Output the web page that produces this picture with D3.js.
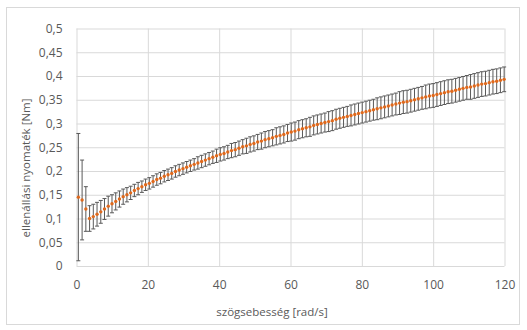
<!DOCTYPE html>
<html>
<head>
<meta charset="utf-8">
<script src="https://cdn.jsdelivr.net/npm/d3@7"></script>
<style>
  body { margin: 0; background: #fff; }
  svg { display: block; }
  text { font-family: "Open Sans", "Liberation Sans", sans-serif; fill: #595959; }
</style>
</head>
<body>
<svg id="chart" width="527" height="330"></svg>
<script>
// angular speed [rad/s]
const omega = [
  0.52, 1.57, 2.62, 3.67, 4.71, 5.76, 6.81, 7.85, 8.90, 9.95,
  11.00, 12.04, 13.09, 14.14, 15.18, 16.23, 17.28, 18.33, 19.37, 20.42,
  21.47, 22.51, 23.56, 24.61, 25.66, 26.70, 27.75, 28.80, 29.85, 30.89,
  31.94, 32.99, 34.03, 35.08, 36.13, 37.18, 38.22, 39.27, 40.32, 41.36,
  42.41, 43.46, 44.51, 45.55, 46.60, 47.65, 48.69, 49.74, 50.79, 51.84,
  52.88, 53.93, 54.98, 56.02, 57.07, 58.12, 59.17, 60.21, 61.26, 62.31,
  63.36, 64.40, 65.45, 66.50, 67.54, 68.59, 69.64, 70.69, 71.73, 72.78,
  73.83, 74.87, 75.92, 76.97, 78.02, 79.06, 80.11, 81.16, 82.21, 83.25,
  84.30, 85.35, 86.39, 87.44, 88.49, 89.54, 90.58, 91.63, 92.68, 93.72,
  94.77, 95.82, 96.87, 97.91, 98.96, 100.01, 101.05, 102.10, 103.15, 104.20,
  105.24, 106.29, 107.34, 108.38, 109.43, 110.48, 111.53, 112.57, 113.62, 114.67,
  115.72, 116.76, 117.81, 118.86, 119.90
]

// resisting torque [Nm]
const torque = [
  0.145, 0.139, 0.120, 0.100, 0.104, 0.109, 0.114, 0.120, 0.126, 0.131,
  0.136, 0.141, 0.146, 0.150, 0.154, 0.159, 0.163, 0.167, 0.171, 0.174,
  0.178, 0.182, 0.185, 0.189, 0.192, 0.195, 0.199, 0.202, 0.205, 0.208,
  0.211, 0.214, 0.217, 0.220, 0.223, 0.226, 0.229, 0.232, 0.235, 0.237,
  0.240, 0.243, 0.245, 0.248, 0.251, 0.253, 0.256, 0.258, 0.261, 0.263,
  0.266, 0.268, 0.270, 0.273, 0.275, 0.277, 0.280, 0.282, 0.284, 0.287,
  0.289, 0.291, 0.293, 0.296, 0.298, 0.300, 0.302, 0.304, 0.306, 0.309,
  0.311, 0.313, 0.315, 0.317, 0.319, 0.321, 0.323, 0.325, 0.327, 0.329,
  0.331, 0.333, 0.335, 0.337, 0.339, 0.341, 0.343, 0.345, 0.346, 0.348,
  0.350, 0.352, 0.354, 0.356, 0.358, 0.359, 0.361, 0.363, 0.365, 0.367,
  0.368, 0.370, 0.372, 0.374, 0.376, 0.377, 0.379, 0.381, 0.383, 0.384,
  0.386, 0.388, 0.389, 0.391, 0.393
]

// +/- error bar half length [Nm]
const torqueErr = [
  0.134, 0.084, 0.047, 0.027, 0.026, 0.025, 0.024, 0.022, 0.021, 0.019,
  0.018, 0.017, 0.016, 0.015, 0.014, 0.013, 0.013, 0.012, 0.012, 0.012,
  0.012, 0.012, 0.012, 0.012, 0.012, 0.012, 0.012, 0.012, 0.012, 0.012,
  0.012, 0.012, 0.013, 0.013, 0.013, 0.013, 0.013, 0.014, 0.014, 0.014,
  0.014, 0.015, 0.015, 0.015, 0.015, 0.016, 0.016, 0.016, 0.016, 0.017,
  0.017, 0.017, 0.017, 0.018, 0.018, 0.018, 0.018, 0.019, 0.019, 0.019,
  0.019, 0.019, 0.020, 0.020, 0.020, 0.020, 0.020, 0.021, 0.021, 0.021,
  0.021, 0.021, 0.021, 0.022, 0.022, 0.022, 0.022, 0.022, 0.022, 0.022,
  0.023, 0.023, 0.023, 0.023, 0.023, 0.023, 0.024, 0.024, 0.024, 0.024,
  0.024, 0.024, 0.024, 0.025, 0.025, 0.025, 0.025, 0.025, 0.025, 0.025,
  0.025, 0.025, 0.025, 0.025, 0.025, 0.026, 0.026, 0.026, 0.026, 0.026,
  0.026, 0.026, 0.026, 0.026, 0.026
]

const xTicks = [0, 20, 40, 60, 80, 100, 120]
const yTicks = [0, 0.05, 0.1, 0.15, 0.2, 0.25, 0.3, 0.35, 0.4, 0.45, 0.5]
const xTitle = 'szögsebesség [rad/s]'
const yTitle = 'ellenállási nyomaték [Nm]'

const points = omega.map((w, i) => ({ x: w, y: torque[i], e: torqueErr[i] }))

const svg = d3.select('#chart')
const plot = { left: 76.5, right: 504.5, top: 28.5, bottom: 266 }

const x = d3.scaleLinear().domain([0, 120]).range([plot.left, plot.right])
const y = d3.scaleLinear().domain([0, 0.5]).range([plot.bottom, plot.top])
const commaFmt = (v) => String(+v.toFixed(2)).replace('.', ',')

// chart frame
svg.append('rect')
  .attr('x', 6.5).attr('y', 7.5)
  .attr('width', 513).attr('height', 317)
  .attr('fill', '#fff')
  .attr('stroke', '#d9d9d9')

// y grid + labels
const yAxis = svg.append('g')
  .attr('transform', `translate(${plot.left},0)`)
  .call(d3.axisLeft(y).tickValues(yTicks).tickFormat(commaFmt)
    .tickSizeInner(-(plot.right - plot.left)).tickSizeOuter(0).tickPadding(14))
yAxis.select('.domain').remove()
yAxis.selectAll('line').attr('stroke', '#d9d9d9')
yAxis.selectAll('text').style('font-size', '12px').attr('fill', '#595959')

// x grid + labels
const xAxis = svg.append('g')
  .attr('transform', `translate(0,${plot.bottom})`)
  .call(d3.axisBottom(x).tickValues(xTicks).tickFormat(d3.format('d'))
    .tickSizeInner(-(plot.bottom - plot.top)).tickSizeOuter(0).tickPadding(14.5))
xAxis.select('.domain').remove()
xAxis.selectAll('line').attr('stroke', '#d9d9d9')
xAxis.selectAll('text').style('font-size', '12px').attr('fill', '#595959')

// error bars
const bars = svg.append('g')
  .attr('stroke', '#595959')
  .attr('stroke-width', 1)
  .selectAll('g.err')
  .data(points)
  .join('g')
  .attr('class', 'err')

bars.append('line')
  .attr('x1', (d) => x(d.x)).attr('x2', (d) => x(d.x))
  .attr('y1', (d) => y(d.y + d.e)).attr('y2', (d) => y(d.y - d.e))
bars.append('line')
  .attr('x1', (d) => x(d.x) - 2).attr('x2', (d) => x(d.x) + 2)
  .attr('y1', (d) => y(d.y + d.e)).attr('y2', (d) => y(d.y + d.e))
bars.append('line')
  .attr('x1', (d) => x(d.x) - 2).attr('x2', (d) => x(d.x) + 2)
  .attr('y1', (d) => y(d.y - d.e)).attr('y2', (d) => y(d.y - d.e))

// markers
svg.append('g')
  .selectAll('circle')
  .data(points)
  .join('circle')
  .attr('cx', (d) => x(d.x))
  .attr('cy', (d) => y(d.y))
  .attr('r', 1.7)
  .attr('fill', '#e0691c')

// axis titles
svg.append('text')
  .attr('x', 272).attr('y', 316)
  .attr('text-anchor', 'middle')
  .style('font-size', '11.5px')
  .text(xTitle)

svg.append('text')
  .attr('transform', 'translate(30,168) rotate(-90)')
  .attr('text-anchor', 'middle')
  .style('font-size', '11.5px')
  .text(yTitle)
</script>
</body>
</html>
